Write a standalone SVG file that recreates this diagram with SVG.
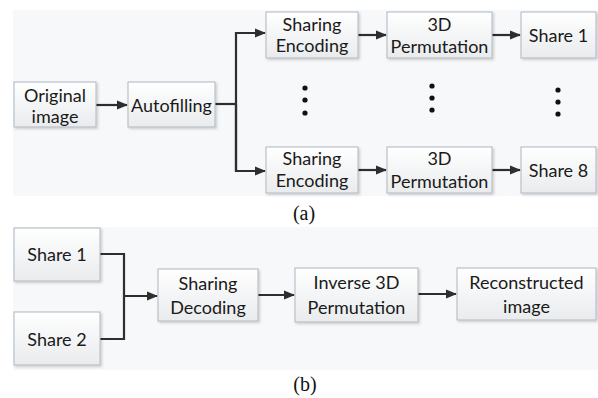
<svg xmlns="http://www.w3.org/2000/svg" width="598" height="398" viewBox="0 0 598 398">
<defs>
<linearGradient id="g" x1="0" y1="0" x2="0" y2="1">
<stop offset="0" stop-color="#ffffff"/>
<stop offset="1" stop-color="#e9ebed"/>
</linearGradient>
<marker id="ah" markerWidth="11" markerHeight="10" refX="10" refY="5" orient="auto" markerUnits="userSpaceOnUse">
<path d="M0,0.6 L11,5 L0,9.4 Z" fill="#2e2e2e"/>
</marker>
<filter id="sh" x="-10%" y="-10%" width="130%" height="130%">
<feDropShadow dx="1.5" dy="1.5" stdDeviation="1" flood-color="#000" flood-opacity="0.18"/>
</filter>
</defs>
<style>
.box{fill:url(#g);stroke:#aeb8c2;stroke-width:1;filter:url(#sh)}
.t{font-family:Lato,"Open Sans",sans-serif;font-size:18px;fill:#1a1a1a;text-anchor:middle;dominant-baseline:central}
.cap{font-family:"Liberation Serif",serif;font-size:20px;fill:#111;text-anchor:middle}
.c{fill:none;stroke:#2e2e2e;stroke-width:2.2}
.a{marker-end:url(#ah)}
.dot{fill:#111}
</style>
<rect x="0" y="0" width="598" height="398" fill="#ffffff"/>
<rect x="13" y="10" width="585" height="186" fill="#f7f8fa"/>
<rect x="13" y="227" width="585" height="143" fill="#f7f8fa"/>

<g id="connectors">
<line class="c a" x1="96" y1="105" x2="127" y2="105"/>
<polyline class="c" points="215,104 236,104"/>
<polyline class="c a" points="236,171 236,33 265,33"/>
<polyline class="c a" points="236,104 236,171 265,171"/>
<line class="c a" x1="358" y1="35" x2="386" y2="35"/>
<line class="c a" x1="492" y1="35" x2="520" y2="35"/>
<line class="c a" x1="358" y1="170" x2="386" y2="170"/>
<line class="c a" x1="492" y1="170" x2="520" y2="170"/>
<polyline class="c" points="100,254 124,254 124,339 100,339"/>
<line class="c a" x1="124" y1="296" x2="157" y2="296"/>
<line class="c a" x1="258" y1="295" x2="294" y2="295"/>
<line class="c a" x1="418" y1="294" x2="456" y2="294"/>
</g>

<g id="original-image"><rect class="box" x="14" y="82" width="82" height="45"/><text class="t" x="55" y="95">Original</text><text class="t" x="55" y="116">image</text></g>
<g id="autofilling"><rect class="box" x="128" y="82" width="87" height="45"/><text class="t" x="171.5" y="105">Autofilling</text></g>

<g id="sharing-encoding-1"><rect class="box" x="266" y="12" width="92" height="46"/><text class="t" x="312" y="24">Sharing</text><text class="t" x="312" y="45">Encoding</text></g>
<g id="permutation-1"><rect class="box" x="387" y="12" width="105" height="46"/><text class="t" x="439.5" y="24">3D</text><text class="t" x="439.5" y="46">Permutation</text></g>
<g id="share-1a"><rect class="box" x="521" y="12" width="75" height="46"/><text class="t" x="558.5" y="35">Share 1</text></g>

<g id="sharing-encoding-8"><rect class="box" x="266" y="147" width="92" height="46"/><text class="t" x="312" y="158">Sharing</text><text class="t" x="312" y="180">Encoding</text></g>
<g id="permutation-8"><rect class="box" x="387" y="147" width="105" height="46"/><text class="t" x="439.5" y="158">3D</text><text class="t" x="439.5" y="181">Permutation</text></g>
<g id="share-8a"><rect class="box" x="521" y="147" width="75" height="46"/><text class="t" x="558.5" y="170">Share 8</text></g>

<g id="ellipsis">
<circle class="dot" cx="305" cy="88" r="2.6"/><circle class="dot" cx="305" cy="100" r="2.6"/><circle class="dot" cx="305" cy="113" r="2.6"/>
<circle class="dot" cx="432" cy="86" r="2.6"/><circle class="dot" cx="432" cy="98" r="2.6"/><circle class="dot" cx="432" cy="110" r="2.6"/>
<circle class="dot" cx="558" cy="90" r="2.6"/><circle class="dot" cx="558" cy="102" r="2.6"/><circle class="dot" cx="558" cy="114" r="2.6"/>
</g>

<text class="cap" x="304" y="220">(a)</text>

<g id="share-1b"><rect class="box" x="14" y="228" width="86" height="53"/><text class="t" x="57" y="254">Share 1</text></g>
<g id="share-2b"><rect class="box" x="14" y="312" width="86" height="53"/><text class="t" x="57" y="339">Share 2</text></g>
<g id="sharing-decoding"><rect class="box" x="158" y="269" width="100" height="52"/><text class="t" x="208" y="283">Sharing</text><text class="t" x="208" y="307">Decoding</text></g>
<g id="inverse-permutation"><rect class="box" x="295" y="268" width="123" height="54"/><text class="t" x="356.5" y="282">Inverse 3D</text><text class="t" x="356.5" y="307">Permutation</text></g>
<g id="reconstructed-image"><rect class="box" x="457" y="268" width="139" height="52"/><text class="t" x="526.5" y="282">Reconstructed</text><text class="t" x="526.5" y="306">image</text></g>

<text class="cap" x="305" y="391">(b)</text>
</svg>
